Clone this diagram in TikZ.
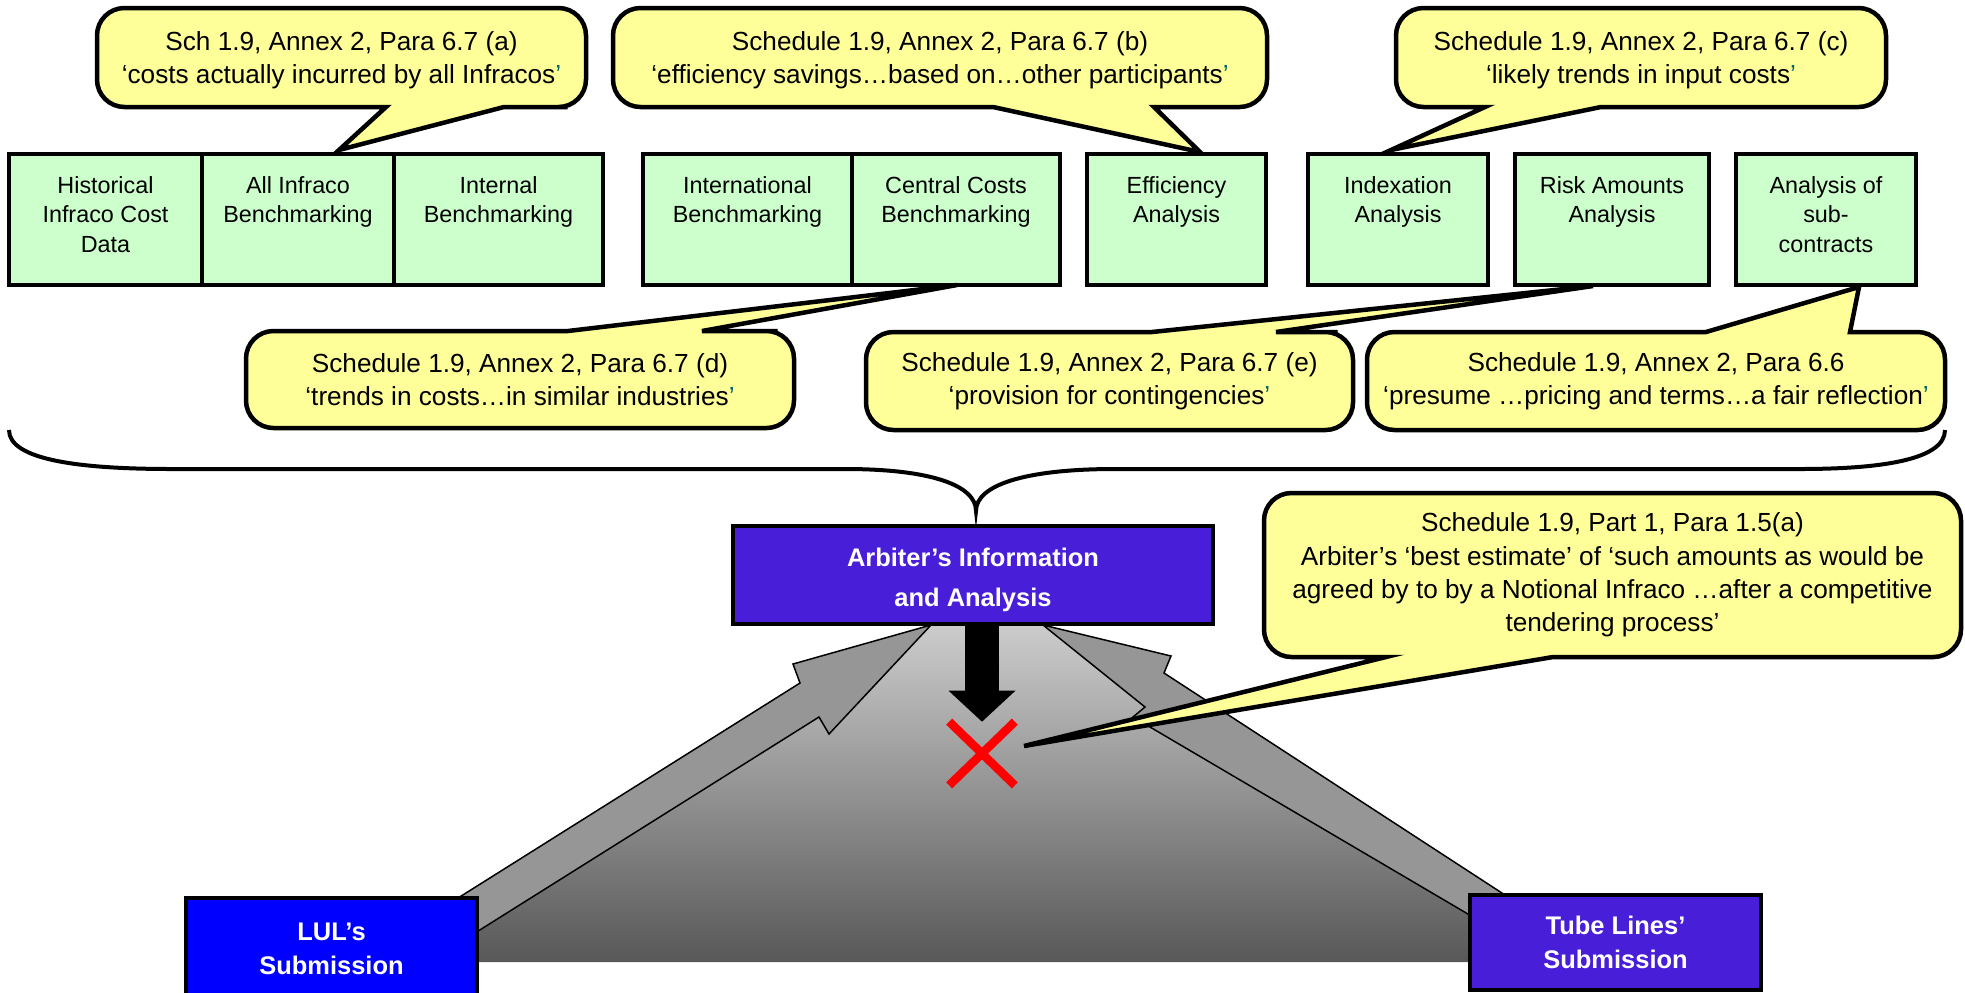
\documentclass[tikz,border=0pt]{standalone}
\usepackage{fontspec}
\setmainfont{Liberation Sans}
\usetikzlibrary{arrows.meta}
\definecolor{boxgreen}{RGB}{204,255,204}
\definecolor{noteyellow}{RGB}{255,255,153}
\definecolor{arbviolet}{RGB}{72,30,216}
\definecolor{lulblue}{RGB}{0,0,255}
\definecolor{arrowgray}{RGB}{150,150,150}
\definecolor{shadetop}{RGB}{204,204,204}
\definecolor{shadebot}{RGB}{88,88,88}
\definecolor{quotecol}{RGB}{0,102,102}
\newcommand{\lowstrut}{\rule[-0.2cm]{0pt}{0pt}}
\newcommand{\cq}{\textcolor{quotecol}{’}}

\begin{document}
\begin{tikzpicture}[x=0.02cm, y=-0.02cm]
    \tikzstyle{datbox} = [rectangle, draw=black, line width=0.08cm, fill=boxgreen, minimum height=2.62cm, inner sep=0pt, align=center, font=\fontsize{13.3}{17}\selectfont]
    \tikzstyle{notebubble} = [draw=black, line width=0.09cm, fill=noteyellow]
    \tikzstyle{notetext} = [align=center, inner sep=0pt, font=\fontsize{14.9}{19}\selectfont]
    \tikzstyle{party} = [rectangle, draw=black, line width=0.08cm, text=white, align=center, font=\bfseries\fontsize{14.5}{19.5}\selectfont]
    \tikzstyle{blockarrow} = [draw=black, line width=0.03cm, fill=arrowgray]
    \useasboundingbox (0,0) rectangle (1965,992);

    % shaded fan under the arrows
    \shade[top color=shadetop, bottom color=shadebot] (931,624) -- (1043,624) -- (1480,922) -- (1480,962) -- (470,962) -- (470,937) -- cycle;
    \filldraw[blockarrow] (458,898) -- (800,683) -- (793,664) -- (931,625) -- (829,734) -- (819,717) -- (475,933) -- (470,910) -- cycle;
    \filldraw[blockarrow] (1043,625) -- (1171,656) -- (1164,673) -- (1505,895) -- (1490,910) -- (1473,917) -- (1133,717) -- (1145,707) -- cycle;

    % analysis boxes
    \node[datbox, minimum width=3.86cm] (hist) at (105.5,219.5) {Historical\\Infraco Cost\\Data\lowstrut};
    \node[datbox, minimum width=3.84cm] (allinf) at (298,219.5) {All Infraco\\Benchmarking\\\lowstrut};
    \node[datbox, minimum width=4.18cm] (intern) at (498.5,219.5) {Internal\\Benchmarking\\\lowstrut};
    \node[datbox, minimum width=4.18cm] (intl) at (747.5,219.5) {International\\Benchmarking\\\lowstrut};
    \node[datbox, minimum width=4.16cm] (central) at (956,219.5) {Central Costs\\Benchmarking\\\lowstrut};
    \node[datbox, minimum width=3.58cm] (effic) at (1176.5,219.5) {Efficiency\\Analysis\\\lowstrut};
    \node[datbox, minimum width=3.6cm] (index) at (1398,219.5) {Indexation\\Analysis\\\lowstrut};
    \node[datbox, minimum width=3.88cm] (risk) at (1612,219.5) {Risk Amounts\\Analysis\\\lowstrut};
    \node[datbox, minimum width=3.6cm] (subcon) at (1826,219.5) {Analysis of\\sub-\\contracts\lowstrut};

    % callouts above
    \filldraw[notebubble] (150,107) [rounded corners=0.55cm] -- (97,107) -- (97,8) -- (586,8) -- (586,107) -- (540,107) [sharp corners] -- (504,107) -- (339,150) -- (386,107) -- cycle;
    \node[notetext] (sa) at (341.5,60.5) {Sch 1.9, Annex 2, Para 6.7 (a)\\‘costs actually incurred by all Infracos\cq};
    \filldraw[notebubble] (700,107) [rounded corners=0.55cm] -- (613,107) -- (613,8) -- (1267,8) -- (1267,107) -- (1200,107) [sharp corners] -- (1154,107) -- (1200,152) -- (993,107) -- cycle;
    \node[notetext] (sb) at (940,60.5) {Schedule 1.9, Annex 2, Para 6.7 (b)\\‘efficiency savings…based on…other participants\cq};
    \filldraw[notebubble] (1450,107) [rounded corners=0.55cm] -- (1396,107) -- (1396,8) -- (1886,8) -- (1886,107) -- (1700,107) [sharp corners] -- (1601,107) -- (1391,150) -- (1485,107) -- cycle;
    \node[notetext] (sc) at (1641,60.5) {Schedule 1.9, Annex 2, Para 6.7 (c)\\‘likely trends in input costs\cq};

    % callouts below
    \filldraw[notebubble] (300,331) [rounded corners=0.55cm] -- (246,331) -- (246,428) -- (794,428) -- (794,331) -- (750,331) [sharp corners] -- (702,331) -- (957,285) -- (568,331) -- cycle;
    \node[notetext] (sd) at (520,379.5) {Schedule 1.9, Annex 2, Para 6.7 (d)\\‘trends in costs…in similar industries\cq};
    \filldraw[notebubble] (920,332) [rounded corners=0.55cm] -- (866,332) -- (866,430) -- (1353,430) -- (1353,332) -- (1310,332) [sharp corners] -- (1276,332) -- (1593,286) -- (1152,332) -- cycle;
    \node[notetext] (se) at (1109.5,381) {Schedule 1.9, Annex 2, Para 6.7 (e)\\‘provision for contingencies\cq};
    \filldraw[notebubble] (1420,332) [rounded corners=0.55cm] -- (1367,332) -- (1367,430) -- (1945,430) -- (1945,332) -- (1890,332) [sharp corners] -- (1850,332) -- (1859,287) -- (1706,332) -- cycle;
    \node[notetext] (sf) at (1656,381) {Schedule 1.9, Annex 2, Para 6.6\\‘presume …pricing and terms…a fair reflection\cq};

    % brace
    \draw[line width=0.08cm] (9,430) .. controls (9,460) and (80,469) .. (172,469) -- (845,469) .. controls (930,469) and (976,485) .. (976,511) .. controls (976,485) and (1025,469) .. (1115,469) -- (1800,469) .. controls (1880,469) and (1945,460) .. (1945,430);

    % submissions and arbiter
    \node[party, fill=arbviolet, minimum width=9.6cm, minimum height=1.96cm, font=\bfseries\fontsize{14.5}{22.7}\selectfont] (arbiter) at (973,575) {\rule{0pt}{0.58cm}Arbiter’s Information\\and Analysis};
    \node[party, fill=lulblue, minimum width=5.82cm, minimum height=2.04cm] (lul) at (331.5,949) {LUL’s\\Submission};
    \node[party, fill=arbviolet, minimum width=5.82cm, minimum height=1.9cm] (tube) at (1615.5,942.5) {Tube Lines’\\Submission};

    \node[minimum width=1.3cm, minimum height=1.26cm, inner sep=0pt] (cross) at (982,753.5) {};
    \draw[line width=0.68cm, -{Triangle[width=1.34cm, length=0.62cm, line width=0pt]}] (arbiter.south -| cross.center) -- (cross.north);
    \draw[red, line width=0.17cm] (cross.north west) -- (cross.south east) (cross.north east) -- (cross.south west);

    % arbiter's estimate
    \filldraw[notebubble] (1320,657) [rounded corners=0.55cm] -- (1264,657) -- (1264,493) -- (1961,493) -- (1961,657) -- (1700,657) [sharp corners] -- (1553,657) -- (1024,746) -- (1386,657) -- cycle;
    \node[notetext] (sg) at (1612.5,575) {Schedule 1.9, Part 1, Para 1.5(a)\\Arbiter’s ‘best estimate’ of ‘such amounts as would be\\agreed by to by a Notional Infraco …after a competitive\\tendering process’};
\end{tikzpicture}
\end{document}
